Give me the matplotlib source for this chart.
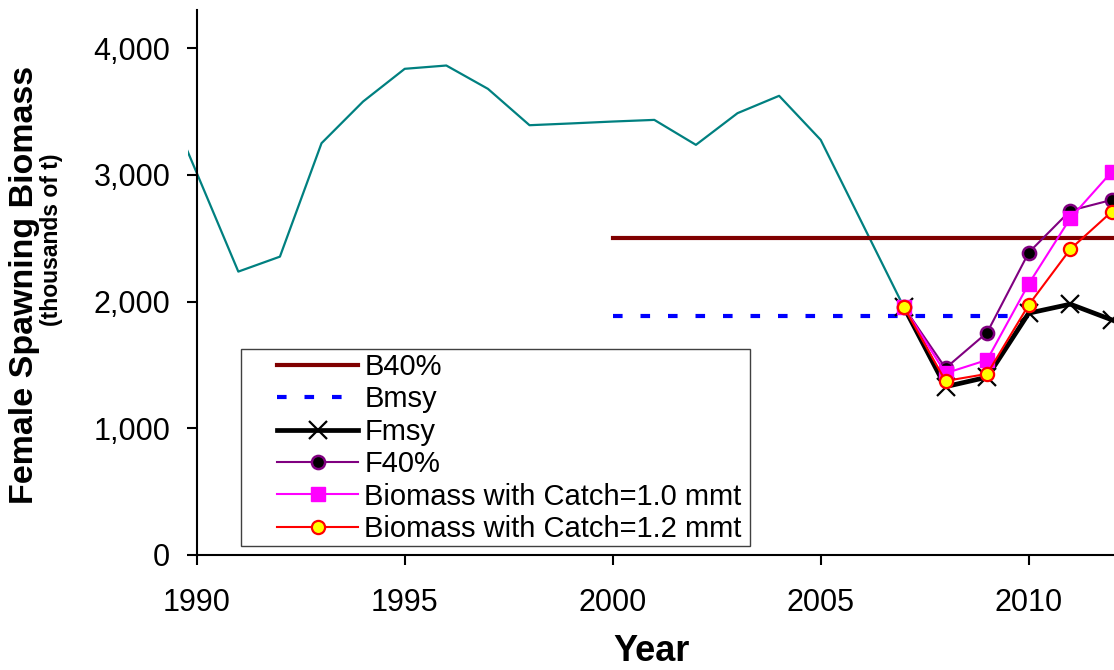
import matplotlib
matplotlib.use('Agg')
import matplotlib.pyplot as plt
from matplotlib.patches import Rectangle

plt.rcParams['font.family'] = ['Liberation Sans', 'DejaVu Sans']

# historical spawning biomass (thousands of t)
hist_years = [1989, 1990, 1991, 1992, 1993, 1994, 1995, 1996, 1997, 1998,
              1999, 2000, 2001, 2002, 2003, 2004, 2005, 2006, 2007]
hist_sb = [3790, 3015, 2236, 2354, 3249, 3578, 3836, 3862, 3678, 3391,
           3405, 3420, 3433, 3236, 3486, 3623, 3275, 2615, 1955]

# reference points
b40_years = [2000, 2012]
b40 = [2500, 2500]
bmsy_years = [2000, 2010]
bmsy = [1889, 1889]

# projections
proj_years = [2007, 2008, 2009, 2010, 2011, 2012]
fmsy = [1955, 1328, 1403, 1908, 1979, 1855]
f40 = [1955, 1474, 1755, 2386, 2717, 2802]
catch_10 = [1955, 1434, 1539, 2139, 2657, 3025]
catch_12 = [1955, 1373, 1429, 1973, 2413, 2710]

y_ticks = [0, 1000, 2000, 3000, 4000]
y_tick_labels = ["0", "1,000", "2,000", "3,000", "4,000"]
x_ticks = [1990, 1995, 2000, 2005, 2010]

W, H = 1114, 670
fig = plt.figure(figsize=(W / 100, H / 100), dpi=100)
ax = fig.add_axes([188.4 / W, 115 / H, (W - 188.4) / W, 545 / H])

ax.plot(hist_years, hist_sb, color="#008080", lw=1.6)
ax.plot(b40_years, b40, color="#800000", lw=3, label="B40%")
ax.plot(bmsy_years, bmsy, color="#0000FF", lw=3, dashes=(2.3, 4.3), label="Bmsy")
ax.plot(proj_years, fmsy, color="black", lw=3.4, marker="x", ms=13, mew=1.6,
        label="Fmsy")
ax.plot(proj_years, f40, color="#800080", lw=1.5, marker="o", ms=9.5,
        mfc="black", mec="#800080", mew=1.8, label="F40%")
ax.plot(proj_years, catch_10, color="#FF00FF", lw=1.5, marker="s", ms=9.5,
        mfc="#FF00FF", mec="#FF00FF", label="Biomass with Catch=1.0 mmt")
ax.plot(proj_years, catch_12, color="#FF0000", lw=1.5, marker="o", ms=9.5,
        mfc="#FFFF00", mec="#FF0000", mew=1.6, label="Biomass with Catch=1.2 mmt")

ax.set_xlim(1989.8, 2012.05)
ax.set_ylim(0, 4300)
ax.spines['top'].set_visible(False)
ax.spines['right'].set_visible(False)
ax.spines['left'].set_position(('data', 1990))
ax.spines['bottom'].set_bounds(1990, 2012.05)
for s in ('left', 'bottom'):
    ax.spines[s].set_linewidth(1.5)

ax.set_xticks(x_ticks)
ax.set_yticks(y_ticks)
ax.set_yticklabels(y_tick_labels)
ax.tick_params(axis='both', direction='out', length=7.5, width=1.5, labelsize=22)
ax.tick_params(axis='x', pad=16)
ax.tick_params(axis='y', pad=11.5)

fig.text(25 / W, 1 - 285 / H, "Female Spawning Biomass", rotation=90,
         ha='center', va='center', fontsize=24.5, fontweight='bold')
fig.text(52 / W, 1 - 240 / H, "(thousands of t)", rotation=90,
         ha='center', va='center', fontsize=16.5, fontweight='bold')
fig.text(652 / W, 1 - 661 / H, "Year", ha='center', va='baseline',
         fontsize=26, fontweight='bold')

leg = fig.legend(loc='upper left', bbox_to_anchor=(276.7 / W, 1 - 353 / H),
                 frameon=False, fontsize=21, borderpad=0, borderaxespad=0,
                 labelspacing=0.15, handlelength=2.8, handletextpad=0.2,
                 numpoints=1)
fig.add_artist(Rectangle((240.7 / W, 1 - 546 / H), 509.3 / W, 197 / H,
                         transform=fig.transFigure, fill=False,
                         edgecolor="#404040", lw=1))

fig.savefig("out.png", dpi=100)
plt.close(fig)
